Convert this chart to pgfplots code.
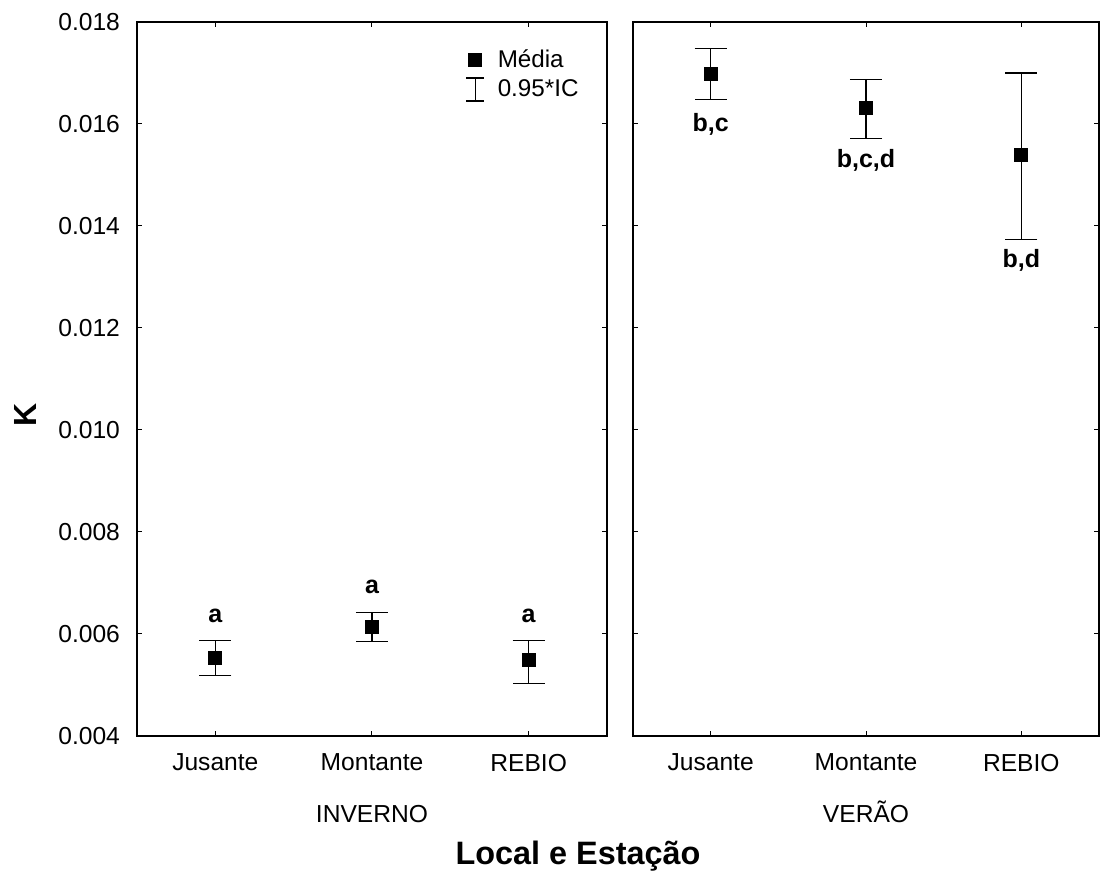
\documentclass[border=0pt]{standalone}
\usepackage{pgfplots}
\pgfplotsset{compat=1.18}
\usepackage{pgfplotstable}
\usepackage{fontspec}
\setmainfont{Liberation Sans}

% K: mean with 0.95 confidence interval (upper / lower distance)
\pgfplotstableread{
x y ep em
0 0.005535 0.000341 0.000353
1 0.006143 0.000282 0.000294
2 0.005490 0.000386 0.000457
}\inverno
\pgfplotstableread{
x y ep em
0 0.01699 0.00049 0.00051
1 0.01631 0.00057 0.00060
2 0.01539 0.00161 0.00166
}\verao

\tikzset{letra/.style={font=\bfseries\fontsize{12.5}{14}\selectfont}}

\pgfplotsset{
  painel/.style={
    scale only axis, width=235pt, height=357pt,
    xmin=-0.5, xmax=2.5, ymin=0.004, ymax=0.018,
    xtick={0,1,2}, xticklabels={Jusante,Montante,REBIO},
    ytick={0.004,0.006,0.008,0.010,0.012,0.014,0.016,0.018},
    tick align=inside, major tick length=2.5pt,
    axis line style={line width=0.6pt},
    every tick/.style={black, line width=0.5pt},
    tick label style={font=\fontsize{12.3}{14}\selectfont},
    /pgf/number format/assume math mode=true,
    yticklabel style={/pgf/number format/fixed, /pgf/number format/precision=3,
      /pgf/number format/fixed zerofill, xshift=-5pt},
    scaled y ticks=false,
    xticklabel style={yshift=-5.5pt},
    xlabel style={font=\fontsize{12.3}{14}\selectfont, at={(axis description cs:0.5,0)},
      anchor=base, yshift=-43.5pt},
    clip=false,
  },
  media/.style={only marks, mark=square*, mark size=3.25pt, black,
    error bars/.cd, y dir=both, y explicit,
    error mark options={rotate=90, mark size=8pt, line width=0.6pt},
    error bar style={line width=0.6pt}},
}

\begin{document}
\begin{tikzpicture}
\useasboundingbox (0,0) rectangle (550pt,-438.5pt);

% INVERNO
\begin{axis}[painel, at={(68.5pt,-11pt)}, anchor=north west,
  xlabel={INVERNO},
  ylabel={K},
  ylabel style={font=\bfseries\fontsize{16}{18}\selectfont,
    at={(axis description cs:0,0.45)}, anchor=center, yshift=56pt},
  legend style={at={(axis description cs:0.694,0.970)}, anchor=north west,
    draw=none, fill=none, font=\fontsize{12.1}{14}\selectfont,
    row sep=0.5pt, inner sep=1pt,
    /tikz/every odd column/.append style={column sep=4.5pt}},
  legend cell align=left,
]
\addlegendimage{only marks, mark=square*, mark size=3.25pt, black}
\addlegendentry{Média}
\addlegendimage{legend image code/.code={
  \draw[black, line width=0.6pt] (0.3cm,-5.75pt) -- (0.3cm,5.75pt)
    (0.3cm-4.5pt,-5.75pt) -- (0.3cm+4.5pt,-5.75pt)
    (0.3cm-4.5pt,5.75pt) -- (0.3cm+4.5pt,5.75pt);}}
\addlegendentry{0.95*IC}
\addplot[forget plot, media] table[x=x, y=y, y error plus=ep, y error minus=em] {\inverno};
\node[letra, anchor=base, yshift=9pt] at (axis cs:0,0.005876) {a};
\node[letra, anchor=base, yshift=9.5pt] at (axis cs:1,0.006425) {a};
\node[letra, anchor=base, yshift=9pt] at (axis cs:2,0.005876) {a};
\end{axis}

% VERAO
\begin{axis}[painel, at={(316.5pt,-11pt)}, anchor=north west, width=233pt,
  yticklabels={},
  xlabel={VERÃO},
]
\addplot[media] table[x=x, y=y, y error plus=ep, y error minus=em] {\verao};
\node[letra, anchor=base, yshift=-16pt] at (axis cs:0,0.01648) {b,c};
\node[letra, anchor=base, yshift=-14.5pt] at (axis cs:1,0.01571) {b,c,d};
\node[letra, anchor=base, yshift=-14pt] at (axis cs:2,0.01373) {b,d};
\end{axis}

\node[anchor=base, font=\bfseries\fontsize{16.2}{18}\selectfont] at (289pt,-432pt) {Local e Estação};
\end{tikzpicture}
\end{document}
